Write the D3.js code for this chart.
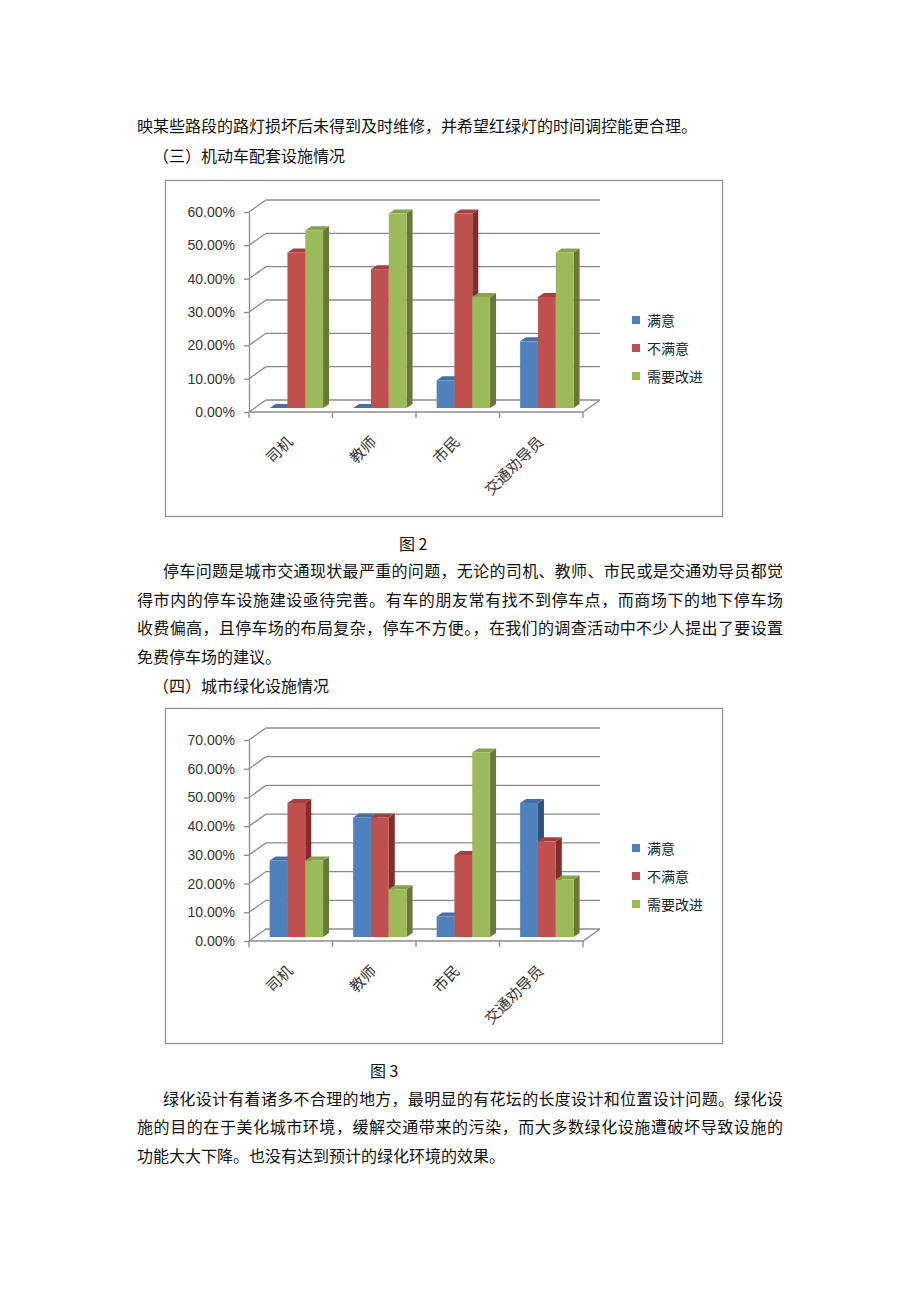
<!DOCTYPE html>
<html>
<head>
<meta charset="utf-8">
<script src="https://cdn.jsdelivr.net/npm/d3@7/dist/d3.min.js"></script>
<style>
  body { margin: 0; background: #fff; }
  svg { display: block; }
  .body-text { font-family: "Noto Sans CJK SC", sans-serif; font-size: 16px; fill: #111; }
  .tick text { font-family: "Liberation Sans", Arial, sans-serif; font-size: 14px; fill: #333; }
  .cat { font-family: "Noto Sans CJK SC", sans-serif; font-size: 15px; fill: #333; }
  .leg { font-family: "Noto Sans CJK SC", sans-serif; font-size: 14px; fill: #222; }
</style>
</head>
<body>
<div id="page"></div>
<script>
// --- data
var categories = ["司机", "教师", "市民", "交通劝导员"];
var seriesNames = ["满意", "不满意", "需要改进"];

// 图2 机动车配套设施
var fig2Satisfied   = [0.0000, 0.0000, 0.0833, 0.2000];
var fig2Unsatisfied = [0.4667, 0.4167, 0.5833, 0.3333];
var fig2Improve     = [0.5333, 0.5833, 0.3333, 0.4667];
var fig2Ticks = [0, 0.1, 0.2, 0.3, 0.4, 0.5, 0.6];

// 图3 城市绿化设施
var fig3Satisfied   = [0.2667, 0.4167, 0.0714, 0.4667];
var fig3Unsatisfied = [0.4667, 0.4167, 0.2857, 0.3333];
var fig3Improve     = [0.2667, 0.1667, 0.6429, 0.2000];
var fig3Ticks = [0, 0.1, 0.2, 0.3, 0.4, 0.5, 0.6, 0.7];

// body text lines
var textTop = [
  { t: "映某些路段的路灯损坏后未得到及时维修，并希望红绿灯的时间调控能更合理。", x: 137, y: 125 },
  { t: "（三）机动车配套设施情况", x: 153, y: 155 },
  { t: "图 2", x: 399, y: 543 },
  { t: "停车问题是城市交通现状最严重的问题，无论的司机、教师、市民或是交通劝导员都觉", x: 163, y: 570, len: 620 },
  { t: "得市内的停车设施建设亟待完善。有车的朋友常有找不到停车点，而商场下的地下停车场", x: 137, y: 599, len: 646 },
  { t: "收费偏高，且停车场的布局复杂，停车不方便。，在我们的调查活动中不少人提出了要设置", x: 137, y: 627, len: 646 },
  { t: "免费停车场的建议。", x: 137, y: 656 },
  { t: "（四）城市绿化设施情况", x: 153, y: 685 },
  { t: "图 3", x: 370, y: 1070 },
  { t: "绿化设计有着诸多不合理的地方，最明显的有花坛的长度设计和位置设计问题。绿化设", x: 163, y: 1098, len: 620 },
  { t: "施的目的在于美化城市环境，缓解交通带来的污染，而大多数绿化设施遭破坏导致设施的", x: 137, y: 1126, len: 646 },
  { t: "功能大大下降。也没有达到预计的绿化环境的效果。", x: 137, y: 1155 }
];

var colors = {
  front: ["#4F81BD", "#C0504D", "#9BBB59"],
  top:   ["#4570A6", "#A3403D", "#86A34B"],
  side:  ["#30527F", "#7E2E2C", "#66793A"]
};

var svg = d3.select("#page").append("svg")
            .attr("width", 920)
            .attr("height", 1302);

svg.append("rect").attr("width", 920).attr("height", 1302).attr("fill", "#fff");

// --- text
textTop.forEach(function(l) {
  var t = svg.append("text")
             .attr("class", "body-text")
             .attr("x", l.x)
             .attr("y", l.y)
             .attr("dominant-baseline", "central")
             .text(l.t);
  if (l.len) {
    t.attr("textLength", l.len).attr("lengthAdjust", "spacing");
  }
});

// --- chart
var drawChart = function(frameY, frameH, floorY, topY, ticks, series, legendY) {
  var left = 249, right = 583;
  var ddx = 17, ddy = -12;       // depth of the floor
  var bdx = 6, bdy = -4;         // depth of a bar
  var f = 0.33;                  // where the bars sit in depth

  svg.append("rect")
     .attr("x", 165.5).attr("y", frameY + 0.5)
     .attr("width", 557).attr("height", frameH)
     .attr("fill", "#fff")
     .attr("stroke", "#8c8c8c")
     .attr("stroke-width", 1.2);

  var g = svg.append("g");

  var y = d3.scaleLinear()
            .domain([0, d3.max(ticks)])
            .range([floorY, topY]);

  var x0 = d3.scaleBand()
             .domain(categories)
             .range([left, right]);

  var bw = x0.bandwidth();
  var x1 = d3.scaleBand()
             .domain(seriesNames)
             .range([bw * 0.18, bw * 0.82]);

  // walls: grid lines
  g.selectAll("grid")
   .data(ticks)
   .enter()
   .append("path")
   .attr("d", function(d) {
     var yy = y(d);
     return "M" + left + "," + yy + "L" + (left + ddx) + "," + (yy + ddy) +
            "L" + (right + ddx) + "," + (yy + ddy);
   })
   .attr("fill", "none")
   .attr("stroke", "#8c8c8c")
   .attr("stroke-width", 1.3);

  // floor
  g.append("path")
   .attr("d", "M" + left + "," + floorY + "L" + right + "," + floorY +
              "L" + (right + ddx) + "," + (floorY + ddy))
   .attr("fill", "none")
   .attr("stroke", "#8c8c8c")
   .attr("stroke-width", 1.3);

  // category tick marks on boundaries
  var bounds = categories.map(function(c) { return x0(c); }).concat([right]);
  g.selectAll("ctick")
   .data(bounds)
   .enter()
   .append("line")
   .attr("x1", function(d) { return d; })
   .attr("x2", function(d) { return d; })
   .attr("y1", floorY)
   .attr("y2", floorY + 6)
   .attr("stroke", "#8c8c8c")
   .attr("stroke-width", 1.3);

  // value axis
  var yAxis = d3.axisLeft(y)
                .tickValues(ticks)
                .tickFormat(d3.format(".2%"))
                .tickSize(5)
                .tickSizeOuter(0)
                .tickPadding(9);
  var ax = g.append("g")
            .attr("transform", "translate(" + left + ",0)")
            .call(yAxis);
  ax.selectAll("path, line").attr("stroke", "#8c8c8c").attr("stroke-width", 1.3);

  // bars
  categories.forEach(function(c, i) {
    series.forEach(function(vals, j) {
      var v = vals[i];
      var x = x0(c) + x1(seriesNames[j]) + f * ddx;
      var w = x1.bandwidth();
      var bottom = floorY + f * ddy;
      var top = y(v) + f * ddy;
      var bar = g.append("g");

      bar.append("path")
         .attr("d", "M" + (x + w) + "," + top + "L" + (x + w + bdx) + "," + (top + bdy) +
                    "L" + (x + w + bdx) + "," + (bottom + bdy) + "L" + (x + w) + "," + bottom + "Z")
         .attr("fill", colors.side[j]);

      bar.append("path")
         .attr("d", "M" + x + "," + top + "L" + (x + bdx) + "," + (top + bdy) +
                    "L" + (x + w + bdx) + "," + (top + bdy) + "L" + (x + w) + "," + top + "Z")
         .attr("fill", colors.top[j]);

      bar.append("rect")
         .attr("x", x)
         .attr("y", top)
         .attr("width", w)
         .attr("height", bottom - top)
         .attr("fill", colors.front[j]);
    });
  });

  // category labels
  g.selectAll("cat")
   .data(categories)
   .enter()
   .append("text")
   .attr("class", "cat")
   .attr("text-anchor", "end")
   .attr("transform", function(d) {
     return "translate(" + (x0(d) + bw / 2 + 3) + "," + (floorY + 31) + ") rotate(-45)";
   })
   .text(function(d) { return d; });

  // legend
  var leg = g.selectAll("leg")
             .data(seriesNames)
             .enter()
             .append("g")
             .attr("transform", function(d, k) { return "translate(632," + (legendY + k * 28) + ")"; });

  leg.append("rect")
     .attr("x", 0).attr("y", -4)
     .attr("width", 8).attr("height", 8)
     .attr("fill", function(d, k) { return colors.front[k]; });

  leg.append("text")
     .attr("class", "leg")
     .attr("x", 15)
     .attr("y", 0)
     .attr("dominant-baseline", "central")
     .text(function(d) { return d; });
};

drawChart(180, 336, 412, 212, fig2Ticks, [fig2Satisfied, fig2Unsatisfied, fig2Improve], 320);
drawChart(708, 335, 941, 740, fig3Ticks, [fig3Satisfied, fig3Unsatisfied, fig3Improve], 848);
</script>
</body>
</html>
